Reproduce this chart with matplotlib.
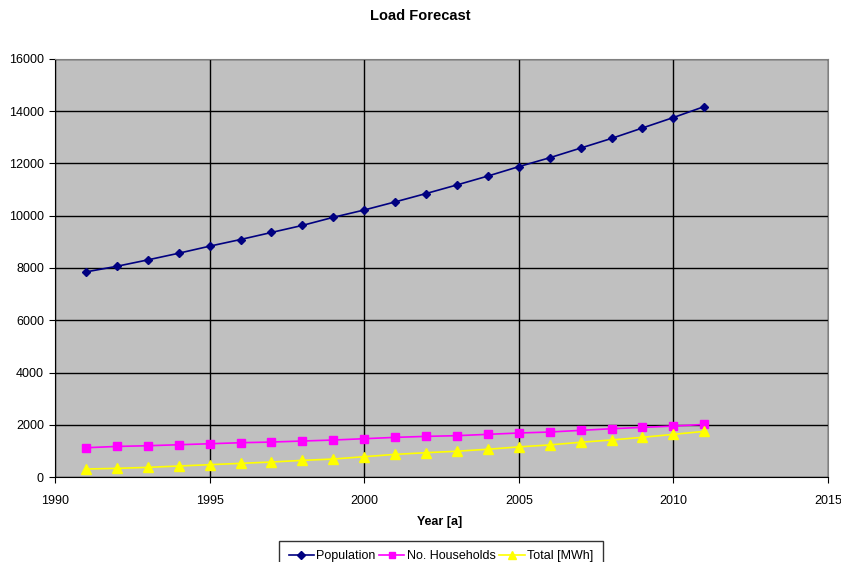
import matplotlib.pyplot as plt

plt.rcParams['font.family'] = ['Liberation Sans', 'DejaVu Sans']

years = list(range(1991, 2012))
population = [7850, 8065, 8310, 8565, 8835, 9090, 9360, 9630, 9940, 10220, 10530,
              10850, 11180, 11520, 11880, 12220, 12590, 12960, 13360, 13760, 14180]
households = [1120, 1170, 1197, 1235, 1273, 1312, 1338, 1377, 1415, 1466, 1517,
              1555, 1582, 1633, 1684, 1722, 1785, 1848, 1899, 1950, 2013]
total_mwh = [306, 331, 369, 420, 471, 522, 573, 637, 688, 777, 866,
             930, 987, 1063, 1152, 1228, 1329, 1418, 1519, 1633, 1747]

fig = plt.figure(figsize=(8.41, 5.62), dpi=100)
ax = fig.add_axes([55 / 841, 1 - 477 / 562, (828 - 55) / 841, (477 - 59) / 562])
ax.set_facecolor('#c0c0c0')

ax.plot(years, population, color='#000080', marker='D', markersize=4.5, lw=1.2, label='Population')
ax.plot(years, households, color='#ff00ff', marker='s', markersize=6, lw=1.2, label='No. Households')
ax.plot(years, total_mwh, color='#ffff00', marker='^', markersize=6.5, lw=1.2, label='Total [MWh]')

ax.set_xlim(1990, 2015)
ax.set_ylim(0, 16000)
ax.set_xticks(range(1990, 2016, 5))
ax.set_yticks(range(0, 16001, 2000))
ax.grid(True, color='black', lw=1)
ax.set_axisbelow(True)
ax.tick_params(direction='out', length=4, labelsize=9, colors='black')
ax.tick_params(axis='x', pad=9)
ax.tick_params(axis='y', pad=4)
for side in ['top', 'right']:
    ax.spines[side].set_color('#808080')
for side in ['left', 'bottom']:
    ax.spines[side].set_color('black')

fig.text(0.5, 1 - 16 / 562, 'Load Forecast', ha='center', va='center', fontsize=10.5, fontweight='bold')
fig.text(440 / 841, 1 - 522 / 562, 'Year [a]', ha='center', va='center', fontsize=9, fontweight='bold')

# legend box runs off the bottom edge of the figure
leg = fig.legend(loc='center', bbox_to_anchor=(441 / 841, 1 - 556 / 562), ncol=3, fontsize=9,
                 frameon=True, fancybox=False, edgecolor='black', handlelength=2.0, markerscale=0.8,
                 columnspacing=0.3, handletextpad=0.2, borderpad=0.75, borderaxespad=0)
leg.get_frame().set_linewidth(1)

fig.savefig('out.png', dpi=100)
